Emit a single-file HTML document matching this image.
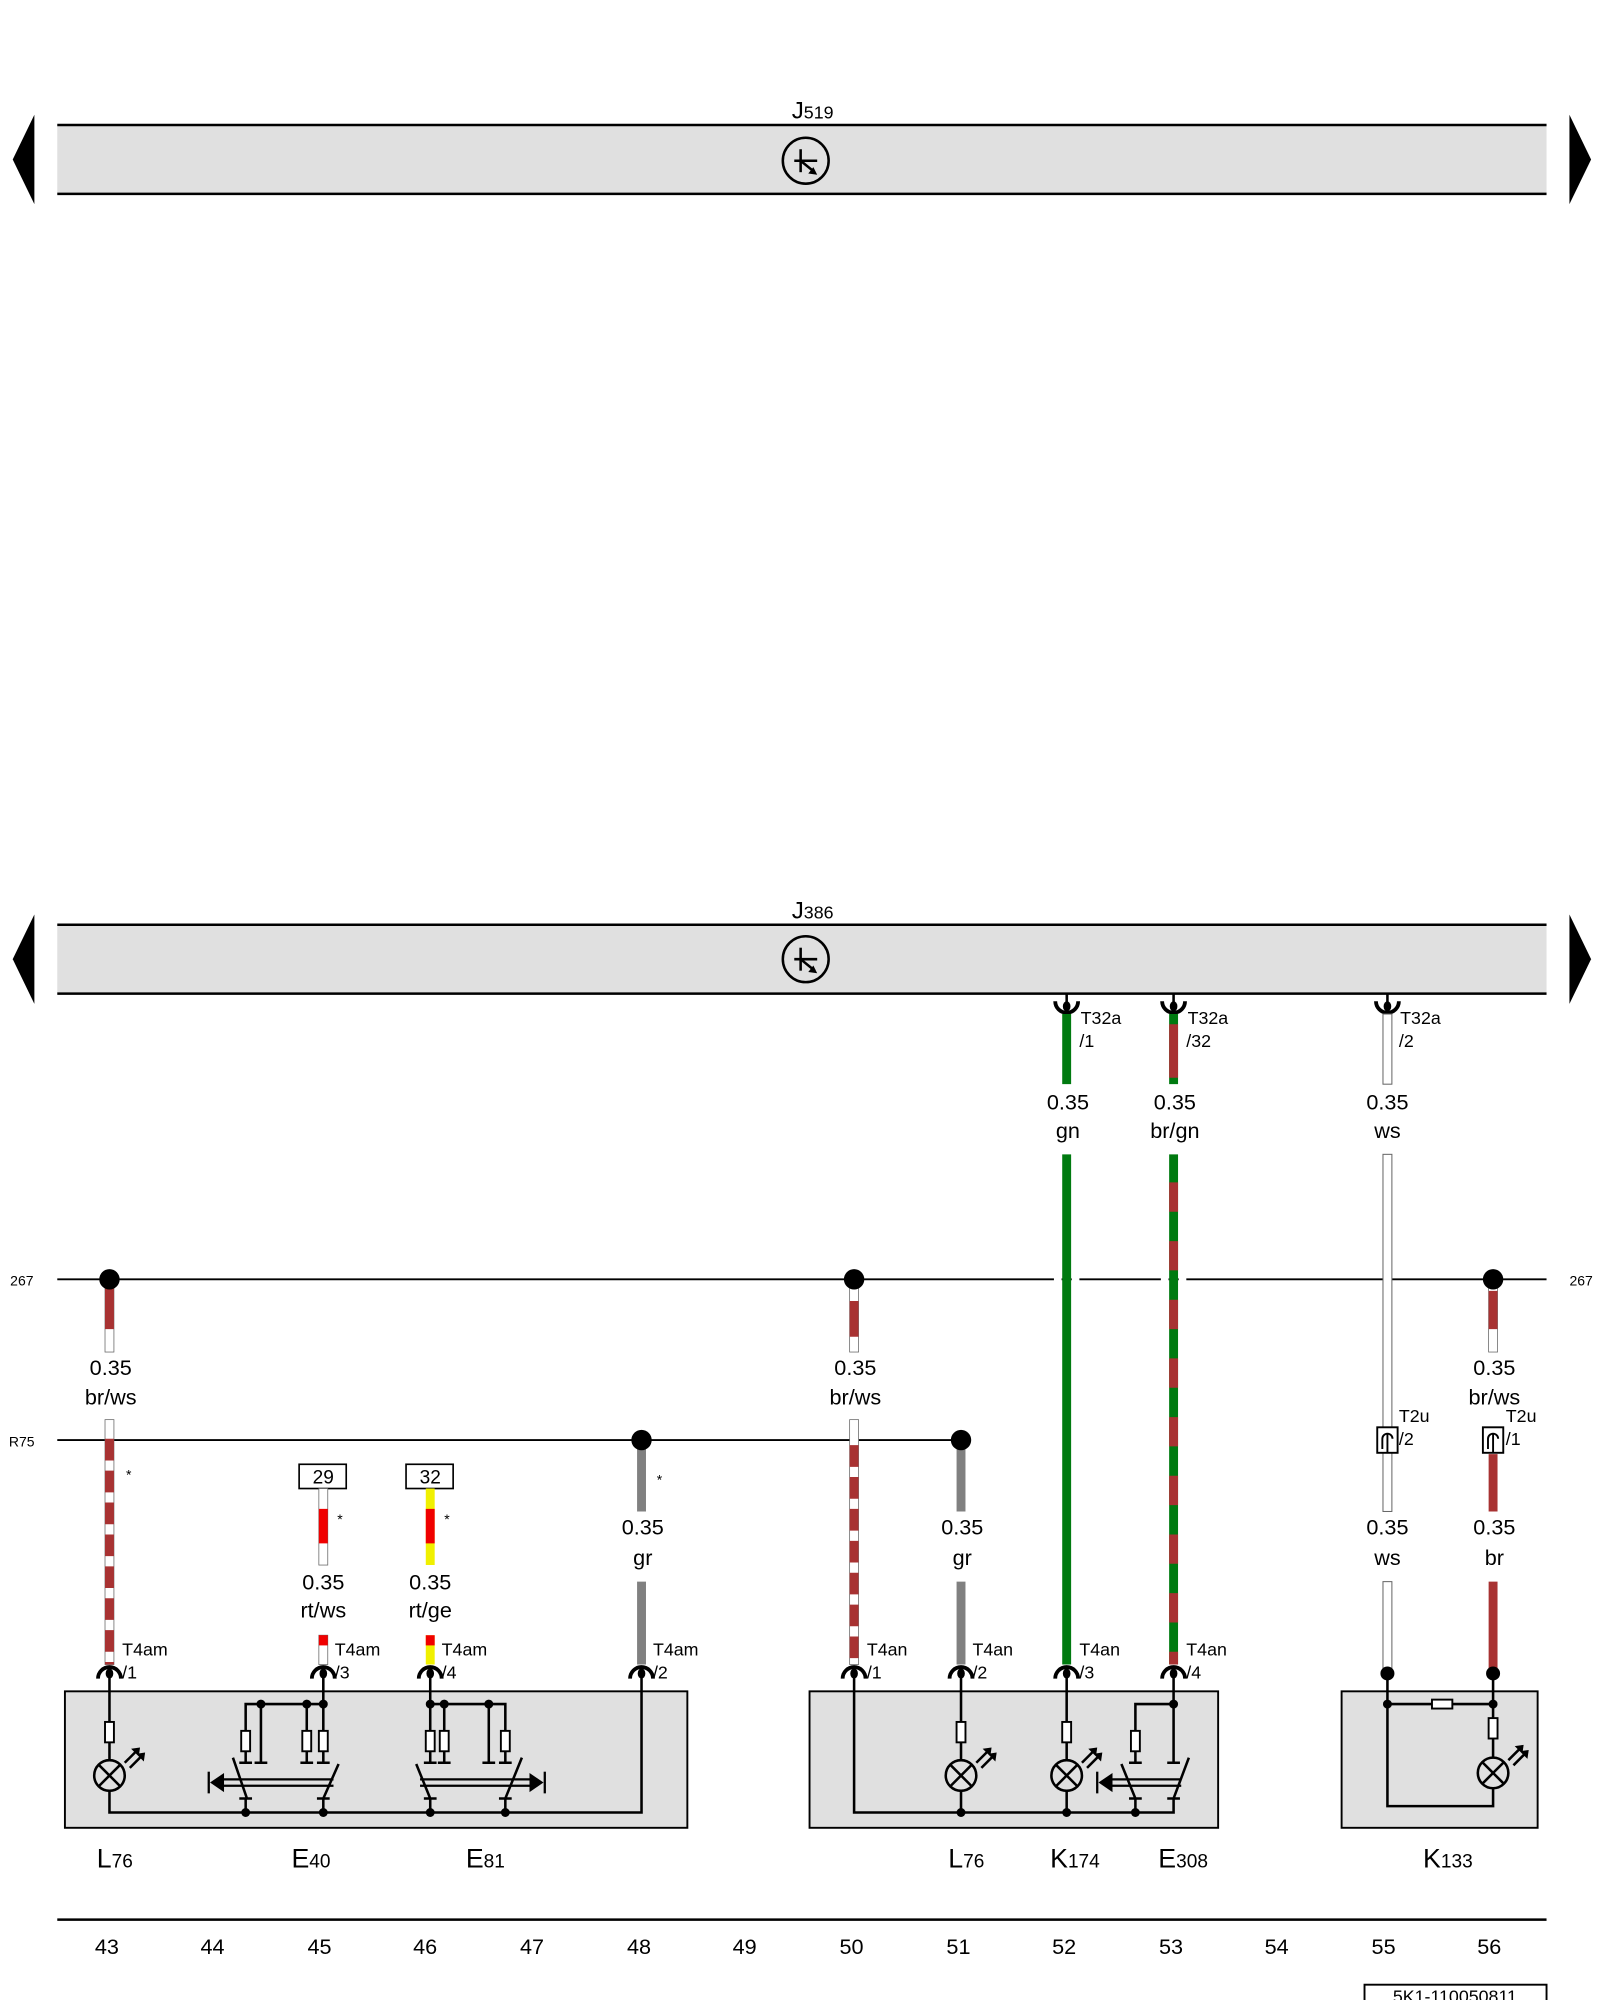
<!DOCTYPE html>
<html><head><meta charset="utf-8"><style>
html,body{margin:0;padding:0;background:#fff;}
svg{display:block;}
text{font-family:"Liberation Sans",Arial,sans-serif;fill:#000;}
.l{font-size:17px;text-anchor:middle;}
.c{font-size:14px;}
.n{font-size:17px;text-anchor:middle;}
.s{font-size:11px;}
</style></head><body>
<svg width="1600" height="2000" viewBox="0 0 1257 1568" preserveAspectRatio="none" xmlns="http://www.w3.org/2000/svg">
<defs>
<g id="lamp"><circle cx="0" cy="0" r="12" fill="none" stroke="#000" stroke-width="2"/><line x1="-8.5" y1="-8.5" x2="8.5" y2="8.5" stroke="#000" stroke-width="2"/><line x1="-8.5" y1="8.5" x2="8.5" y2="-8.5" stroke="#000" stroke-width="2"/>
<path d="M12 -10 L23 -21 M16 -6 L27 -17" stroke="#000" stroke-width="2"/><path d="M24 -22 l-7 1 l6 6z M28 -18 l-7 1 l6 6z" fill="#000"/></g>
<g id="res"><rect x="-3.5" y="-8" width="7" height="16" fill="#fff" stroke="#000" stroke-width="1.5"/></g>
<g id="cb"><path d="M-9 6 A9 9 0 0 1 9 6" fill="none" stroke="#000" stroke-width="3"/><ellipse cx="0" cy="2" rx="3" ry="4" fill="#000"/></g>
<g id="ct"><path d="M-9 -5 A9 9 0 0 0 9 -5" fill="none" stroke="#000" stroke-width="3"/><ellipse cx="0" cy="-1" rx="3" ry="4" fill="#000"/><line x1="0" y1="-11" x2="0" y2="0" stroke="#000" stroke-width="2"/></g>
<g id="sym"><circle cx="0" cy="0" r="18" fill="none" stroke="#000" stroke-width="2"/><line x1="-9" y1="0" x2="9" y2="0" stroke="#000" stroke-width="2"/><line x1="-4" y1="-9" x2="-4" y2="9" stroke="#000" stroke-width="2"/><line x1="-4" y1="0" x2="7" y2="9" stroke="#000" stroke-width="2"/><path d="M9 11 l-7 -1 l4 -5z" fill="#000"/></g>
</defs>

<!-- J519 bar -->
<polygon points="27,90 27,160 10,125" fill="#000"/>
<polygon points="1233,90 1233,160 1250,125" fill="#000"/>
<rect x="45" y="98" width="1170" height="54" fill="#e0e0e0"/>
<line x1="45" y1="98" x2="1215" y2="98" stroke="#000" stroke-width="2"/>
<line x1="45" y1="152" x2="1215" y2="152" stroke="#000" stroke-width="2"/>
<use href="#sym" x="633" y="126"/>
<text x="622" y="93" style="font-size:19px">J<tspan style="font-size:14px">519</tspan></text>

<!-- J386 bar -->
<polygon points="27,717 27,787 10,752" fill="#000"/>
<polygon points="1233,717 1233,787 1250,752" fill="#000"/>
<rect x="45" y="725" width="1170" height="54" fill="#e0e0e0"/>
<line x1="45" y1="725" x2="1215" y2="725" stroke="#000" stroke-width="2"/>
<line x1="45" y1="779" x2="1215" y2="779" stroke="#000" stroke-width="2"/>
<use href="#sym" x="633" y="752"/>
<text x="622" y="720" style="font-size:19px">J<tspan style="font-size:14px">386</tspan></text>

<!-- bus lines -->
<line x1="45" y1="1003" x2="1215" y2="1003" stroke="#000" stroke-width="1.5"/>
<text x="8" y="1008" class="s">267</text><text x="1233" y="1008" class="s">267</text>
<line x1="45" y1="1129" x2="755" y2="1129" stroke="#000" stroke-width="1.5"/>
<text x="7" y="1134" class="s">R75</text>

<!-- top connectors T32a -->
<use href="#ct" x="838" y="790"/><text x="849" y="803" class="c">T32a</text><text x="848" y="821" class="c">/1</text>
<use href="#ct" x="922" y="790"/><text x="933" y="803" class="c">T32a</text><text x="932" y="821" class="c">/32</text>
<use href="#ct" x="1090" y="790"/><text x="1100" y="803" class="c">T32a</text><text x="1099" y="821" class="c">/2</text>

<!-- wires -->
<rect x="82.5" y="1008" width="7" height="52" fill="#fff" stroke="#666" stroke-width="0.6"/>
<line x1="86" y1="1010" x2="86" y2="1042" stroke="#a83232" stroke-width="7"/>
<rect x="82.5" y="1113" width="7" height="192" fill="#fff" stroke="#666" stroke-width="0.6"/>
<line x1="86" y1="1128" x2="86" y2="1305" stroke="#a83232" stroke-width="7" stroke-dasharray="17 8"/>
<text x="99" y="1160" class="s">*</text>
<rect x="667.5" y="1008" width="7" height="52" fill="#fff" stroke="#666" stroke-width="0.6"/>
<line x1="671" y1="1020" x2="671" y2="1048" stroke="#a83232" stroke-width="7"/>
<rect x="667.5" y="1113" width="7" height="192" fill="#fff" stroke="#666" stroke-width="0.6"/>
<line x1="671" y1="1133" x2="671" y2="1305" stroke="#a83232" stroke-width="7" stroke-dasharray="17 8"/>
<rect x="1169.5" y="1008" width="7" height="52" fill="#fff" stroke="#666" stroke-width="0.6"/>
<line x1="1173" y1="1012" x2="1173" y2="1042" stroke="#a83232" stroke-width="7"/>
<line x1="1173" y1="1140" x2="1173" y2="1185" stroke="#a83232" stroke-width="7"/>
<line x1="1173" y1="1240" x2="1173" y2="1312" stroke="#a83232" stroke-width="7"/>
<rect x="235" y="1148" width="37" height="19" fill="#fff" stroke="#000" stroke-width="1.3"/><text x="254" y="1163" class="l" style="font-size:15px">29</text>
<rect x="250.5" y="1167" width="7" height="60" fill="#fff" stroke="#666" stroke-width="0.6"/>
<line x1="254" y1="1183" x2="254" y2="1210" stroke="#f00000" stroke-width="7"/>
<text x="265" y="1195" class="s">*</text>
<rect x="250.5" y="1282" width="7" height="23" fill="#fff" stroke="#666" stroke-width="0.6"/>
<line x1="254" y1="1282" x2="254" y2="1290" stroke="#f00000" stroke-width="7"/>
<rect x="319" y="1148" width="37" height="19" fill="#fff" stroke="#000" stroke-width="1.3"/><text x="338" y="1163" class="l" style="font-size:15px">32</text>
<line x1="338" y1="1167" x2="338" y2="1227" stroke="#f0f000" stroke-width="7"/>
<line x1="338" y1="1183" x2="338" y2="1210" stroke="#f00000" stroke-width="7"/>
<text x="349" y="1195" class="s">*</text>
<line x1="338" y1="1282" x2="338" y2="1305" stroke="#f0f000" stroke-width="7"/>
<line x1="338" y1="1282" x2="338" y2="1290" stroke="#f00000" stroke-width="7"/>
<line x1="504" y1="1129" x2="504" y2="1185" stroke="#808080" stroke-width="7"/>
<text x="516" y="1164" class="s">*</text>
<line x1="504" y1="1240" x2="504" y2="1305" stroke="#808080" stroke-width="7"/>
<line x1="755" y1="1129" x2="755" y2="1185" stroke="#808080" stroke-width="7"/>
<line x1="755" y1="1240" x2="755" y2="1305" stroke="#808080" stroke-width="7"/>
<line x1="838" y1="795" x2="838" y2="850" stroke="#007a10" stroke-width="7"/>
<line x1="838" y1="905" x2="838" y2="1305" stroke="#007a10" stroke-width="7"/>
<line x1="922" y1="795" x2="922" y2="850" stroke="#007a10" stroke-width="7"/>
<line x1="922" y1="803" x2="922" y2="845" stroke="#a83232" stroke-width="7"/>
<line x1="922" y1="905" x2="922" y2="1305" stroke="#007a10" stroke-width="7"/>
<line x1="922" y1="927" x2="922" y2="1305" stroke="#a83232" stroke-width="7" stroke-dasharray="23 23"/>
<rect x="1086.5" y="795" width="7" height="55" fill="#fff" stroke="#666" stroke-width="0.8"/>
<rect x="1086.5" y="905" width="7" height="280" fill="#fff" stroke="#666" stroke-width="0.8"/>
<rect x="1086.5" y="1240" width="7" height="72" fill="#fff" stroke="#666" stroke-width="0.8"/>

<!-- bus dots -->
<circle cx="86" cy="1003" r="8" fill="#000"/><circle cx="671" cy="1003" r="8" fill="#000"/><circle cx="1173" cy="1003" r="8" fill="#000"/>
<circle cx="504" cy="1129" r="8" fill="#000"/><circle cx="755" cy="1129" r="8" fill="#000"/>
<line x1="828" y1="1003" x2="834" y2="1003" stroke="#fff" stroke-width="3"/>
<line x1="842" y1="1003" x2="848" y2="1003" stroke="#fff" stroke-width="3"/>
<line x1="912" y1="1003" x2="918" y2="1003" stroke="#fff" stroke-width="3"/>
<line x1="926" y1="1003" x2="932" y2="1003" stroke="#fff" stroke-width="3"/>

<!-- T2u connectors -->
<rect x="1082" y="1119" width="16" height="20" fill="#fff" stroke="#000" stroke-width="1.5"/><path d="M1086 1136 v-8 a4 4 0 0 1 8 0" fill="none" stroke="#000" stroke-width="1.5"/><line x1="1090" y1="1124" x2="1090" y2="1139" stroke="#000" stroke-width="1.5"/>
<text x="1099" y="1115" class="c">T2u</text><text x="1099" y="1133" class="c">/2</text>
<rect x="1165" y="1119" width="16" height="20" fill="#fff" stroke="#000" stroke-width="1.5"/><path d="M1169 1136 v-8 a4 4 0 0 1 8 0" fill="none" stroke="#000" stroke-width="1.5"/><line x1="1173" y1="1124" x2="1173" y2="1139" stroke="#000" stroke-width="1.5"/>
<text x="1183" y="1115" class="c">T2u</text><text x="1183" y="1133" class="c">/1</text>

<!-- wire labels -->
<text x="839" y="870" class="l">0.35</text><text x="839" y="892" class="l">gn</text>
<text x="923" y="870" class="l">0.35</text><text x="923" y="892" class="l">br/gn</text>
<text x="1090" y="870" class="l">0.35</text><text x="1090" y="892" class="l">ws</text>
<text x="87" y="1078" class="l">0.35</text><text x="87" y="1101" class="l">br/ws</text>
<text x="672" y="1078" class="l">0.35</text><text x="672" y="1101" class="l">br/ws</text>
<text x="1174" y="1078" class="l">0.35</text><text x="1174" y="1101" class="l">br/ws</text>
<text x="505" y="1203" class="l">0.35</text><text x="505" y="1227" class="l">gr</text>
<text x="756" y="1203" class="l">0.35</text><text x="756" y="1227" class="l">gr</text>
<text x="1090" y="1203" class="l">0.35</text><text x="1090" y="1227" class="l">ws</text>
<text x="1174" y="1203" class="l">0.35</text><text x="1174" y="1227" class="l">br</text>
<text x="254" y="1246" class="l">0.35</text><text x="254" y="1268" class="l">rt/ws</text>
<text x="338" y="1246" class="l">0.35</text><text x="338" y="1268" class="l">rt/ge</text>

<!-- boxes -->
<rect x="51" y="1326" width="489" height="107" fill="#e0e0e0" stroke="#000" stroke-width="1.5"/>
<rect x="636" y="1326" width="321" height="107" fill="#e0e0e0" stroke="#000" stroke-width="1.5"/>
<rect x="1054" y="1326" width="154" height="107" fill="#e0e0e0" stroke="#000" stroke-width="1.5"/>

<!-- bottom connectors -->
<use href="#cb" x="86" y="1310"/><text x="96" y="1298" class="c">T4am</text><text x="96" y="1316" class="c">/1</text>
<use href="#cb" x="254" y="1310"/><text x="263" y="1298" class="c">T4am</text><text x="263" y="1316" class="c">/3</text>
<use href="#cb" x="338" y="1310"/><text x="347" y="1298" class="c">T4am</text><text x="347" y="1316" class="c">/4</text>
<use href="#cb" x="504" y="1310"/><text x="513" y="1298" class="c">T4am</text><text x="513" y="1316" class="c">/2</text>
<use href="#cb" x="671" y="1310"/><text x="681" y="1298" class="c">T4an</text><text x="681" y="1316" class="c">/1</text>
<use href="#cb" x="755" y="1310"/><text x="764" y="1298" class="c">T4an</text><text x="764" y="1316" class="c">/2</text>
<use href="#cb" x="838" y="1310"/><text x="848" y="1298" class="c">T4an</text><text x="848" y="1316" class="c">/3</text>
<use href="#cb" x="922" y="1310"/><text x="932" y="1298" class="c">T4an</text><text x="932" y="1316" class="c">/4</text>

<!-- box1 circuits -->
<g stroke="#000" stroke-width="2" fill="none">
<path d="M86 1312 V1380 M86 1404 V1421 H504 V1312"/>
<path d="M254 1312 V1336 H193 V1382 M205 1336 V1382 M241 1336 V1382 M254 1336 V1382"/>
<path d="M188 1382 h10 M200 1382 h10 M236 1382 h10 M249 1382 h10"/>
<path d="M183 1378 L194 1410 M266 1383 L254 1410 M193 1410 V1421 M254 1410 V1421 M188 1410 h10 M249 1410 h10"/>
<path d="M338 1312 V1336 H397 V1382 M384 1336 V1382 M338 1336 V1382 M349 1336 V1382"/>
<path d="M333 1382 h10 M344 1382 h10 M379 1382 h10 M392 1382 h10"/>
<path d="M327 1383 L338 1410 M410 1378 L397 1410 M338 1410 V1421 M397 1410 V1421 M333 1410 h10 M392 1410 h10"/>
</g>
<g stroke="#000" stroke-width="1.8">
<line x1="172" y1="1395" x2="262" y2="1395"/><line x1="172" y1="1400" x2="262" y2="1400"/>
<line x1="164" y1="1389" x2="164" y2="1406"/>
<line x1="330" y1="1395" x2="422" y2="1395"/><line x1="330" y1="1400" x2="422" y2="1400"/>
<line x1="428" y1="1389" x2="428" y2="1406"/>
</g>
<polygon points="165,1397.5 176,1390 176,1405" fill="#000"/>
<polygon points="427,1397.5 416,1390 416,1405" fill="#000"/>
<use href="#res" x="86" y="1358"/><use href="#lamp" x="86" y="1392"/>
<use href="#res" x="193" y="1365"/><use href="#res" x="241" y="1365"/><use href="#res" x="254" y="1365"/>
<use href="#res" x="338" y="1365"/><use href="#res" x="349" y="1365"/><use href="#res" x="397" y="1365"/>
<g fill="#000">
<circle cx="205" cy="1336" r="3.5"/><circle cx="241" cy="1336" r="3.5"/><circle cx="254" cy="1336" r="3.5"/>
<circle cx="338" cy="1336" r="3.5"/><circle cx="349" cy="1336" r="3.5"/><circle cx="384" cy="1336" r="3.5"/>
<circle cx="193" cy="1421" r="3.5"/><circle cx="254" cy="1421" r="3.5"/><circle cx="338" cy="1421" r="3.5"/><circle cx="397" cy="1421" r="3.5"/>
</g>

<!-- box2 circuits -->
<g stroke="#000" stroke-width="2" fill="none">
<path d="M671 1312 V1421 H922 V1410"/>
<path d="M755 1312 V1380 M755 1404 V1421"/>
<path d="M838 1312 V1380 M838 1404 V1421"/>
<path d="M922 1312 V1382 M922 1336 H892 V1382 M887 1382 h10 M917 1382 h10"/>
<path d="M881 1383 L892 1410 M934 1378 L922 1410 M892 1410 V1421 M887 1410 h10 M917 1410 h10"/>
</g>
<g stroke="#000" stroke-width="1.8">
<line x1="870" y1="1395" x2="928" y2="1395"/><line x1="870" y1="1400" x2="928" y2="1400"/>
<line x1="862" y1="1389" x2="862" y2="1406"/>
</g>
<polygon points="863,1397.5 874,1390 874,1405" fill="#000"/>
<use href="#res" x="755" y="1358"/><use href="#lamp" x="755" y="1392"/>
<use href="#res" x="838" y="1358"/><use href="#lamp" x="838" y="1392"/>
<use href="#res" x="892" y="1365"/>
<g fill="#000"><circle cx="922" cy="1336" r="3.5"/><circle cx="755" cy="1421" r="3.5"/><circle cx="838" cy="1421" r="3.5"/><circle cx="892" cy="1421" r="3.5"/></g>

<!-- box3 circuits -->
<g stroke="#000" stroke-width="2" fill="none">
<path d="M1090 1312 V1416 H1173 V1402 M1173 1312 V1378 M1090 1336 H1173"/>
</g>
<rect x="1125" y="1332.5" width="16" height="7" fill="#fff" stroke="#000" stroke-width="1.5"/>
<use href="#res" x="1173" y="1355"/><use href="#lamp" x="1173" y="1390"/>
<g fill="#000"><circle cx="1090" cy="1312" r="5.5"/><circle cx="1173" cy="1312" r="5.5"/><circle cx="1090" cy="1336" r="3.5"/><circle cx="1173" cy="1336" r="3.5"/></g>

<!-- component labels -->
<g style="font-size:21px">
<text x="76" y="1464">L<tspan style="font-size:15px">76</tspan></text>
<text x="229" y="1464">E<tspan style="font-size:15px">40</tspan></text>
<text x="366" y="1464">E<tspan style="font-size:15px">81</tspan></text>
<text x="745" y="1464">L<tspan style="font-size:15px">76</tspan></text>
<text x="825" y="1464">K<tspan style="font-size:15px">174</tspan></text>
<text x="910" y="1464">E<tspan style="font-size:15px">308</tspan></text>
<text x="1118" y="1464">K<tspan style="font-size:15px">133</tspan></text>
</g>

<!-- bottom ruler -->
<line x1="45" y1="1505" x2="1215" y2="1505" stroke="#000" stroke-width="2"/>
<text x="84" y="1532" class="n">43</text><text x="167" y="1532" class="n">44</text><text x="251" y="1532" class="n">45</text><text x="334" y="1532" class="n">46</text><text x="418" y="1532" class="n">47</text><text x="502" y="1532" class="n">48</text><text x="585" y="1532" class="n">49</text><text x="669" y="1532" class="n">50</text><text x="753" y="1532" class="n">51</text><text x="836" y="1532" class="n">52</text><text x="920" y="1532" class="n">53</text><text x="1003" y="1532" class="n">54</text><text x="1087" y="1532" class="n">55</text><text x="1170" y="1532" class="n">56</text>
<rect x="1072" y="1556" width="143" height="20" fill="#fff" stroke="#000" stroke-width="1.5"/>
<text x="1143" y="1570" class="l" style="font-size:14px">5K1-110050811</text>
</svg>
</body></html>
